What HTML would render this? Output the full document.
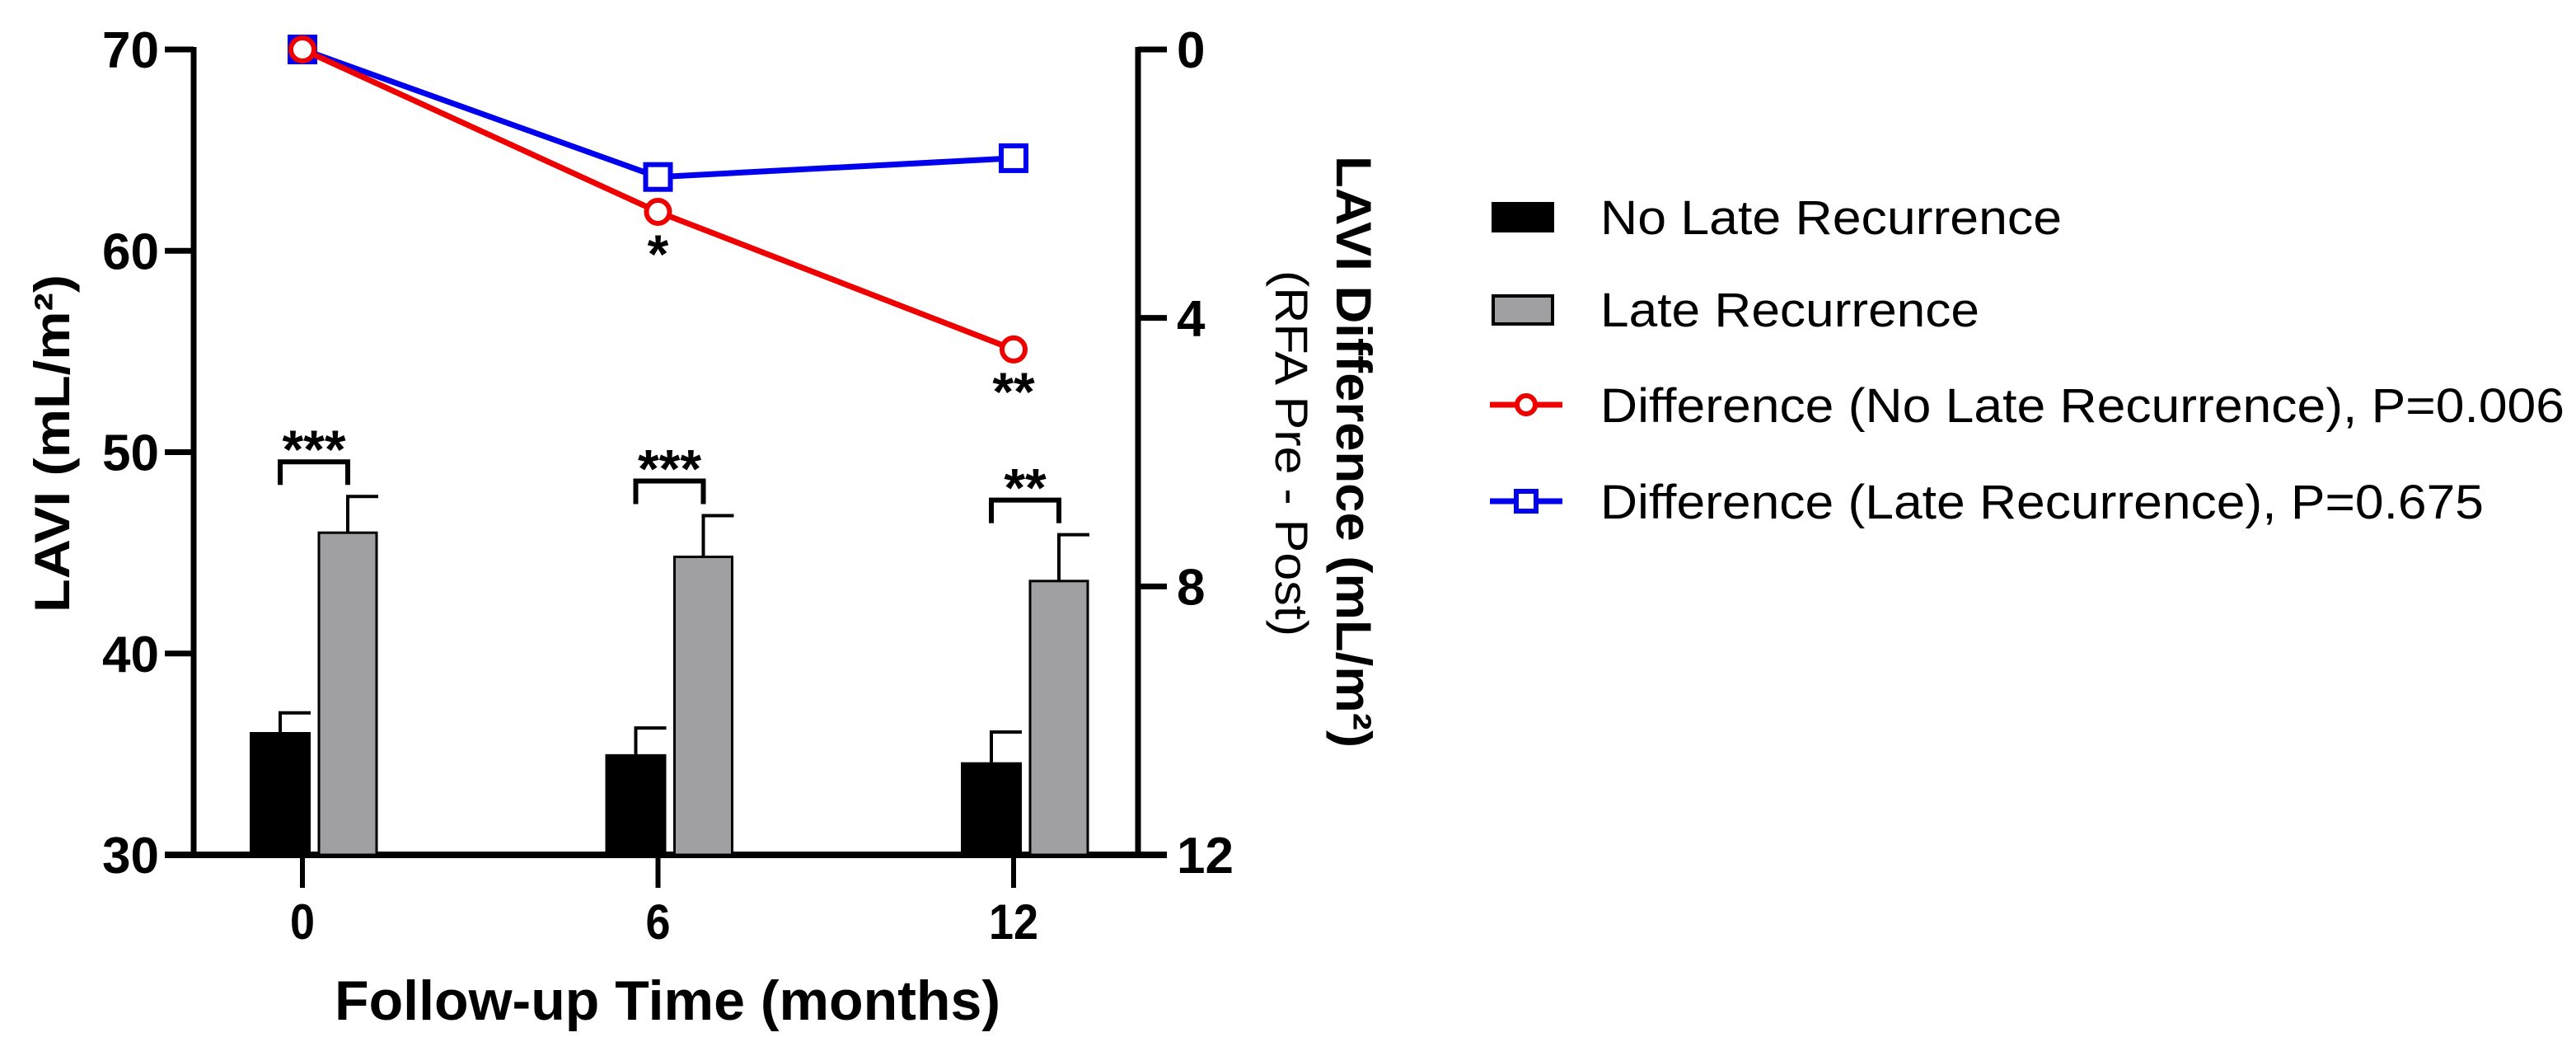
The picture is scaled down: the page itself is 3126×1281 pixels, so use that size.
<!DOCTYPE html>
<html><head><meta charset="utf-8"><style>html,body{margin:0;padding:0;background:#fff}svg{display:block}text{font-family:"Liberation Sans",Arial,sans-serif}</style></head>
<body>
<svg id="chart" width="3126" height="1281" viewBox="0 0 3126 1281" xmlns="http://www.w3.org/2000/svg">
<g id="axes"></g>
<g id="bars"></g>
<g id="lines"></g>
<g id="legend"></g>
</svg>
<script>
const categories = ["0", "6", "12"];
const noRecMean = [36.1, 35.0, 34.6];
const noRecErr = [0.95, 1.3, 1.5];
const recMean = [46.0, 44.8, 43.6];
const recErr = [1.8, 2.05, 2.3];
const diffNoRec = [0, 2.42, 4.47];
const diffRec = [0, 1.9, 1.62];
const leftTicks = [30, 40, 50, 60, 70];
const rightTicks = [0, 4, 8, 12];
const barSig = ["***", "***", "**"];
const lineSig = ["", "*", "**"];

const NS = "http://www.w3.org/2000/svg";
function mk(tag, attrs, parent, txt) {
  const e = document.createElementNS(NS, tag);
  for (const k in attrs) e.setAttribute(k, attrs[k]);
  if (txt !== undefined) e.textContent = txt;
  parent.appendChild(e);
  return e;
}
const X0 = 235, X1 = 1381, Y0 = 1037, Y1 = 60;
const yL = v => Y0 - (v - 30) / 40 * (Y0 - Y1);
const yR = v => Y1 + v / 12 * (Y0 - Y1);
const xC = i => 367 + i * 431.5;

const axes = document.getElementById('axes');
let e;
e = mk('line', {x1: X0, y1: Y1 - 3, x2: X0, y2: Y0 + 4, stroke: '#000', 'stroke-width': 7}, axes);
 
e = mk('line', {x1: X1, y1: Y1 - 3, x2: X1, y2: Y0 + 4, stroke: '#000', 'stroke-width': 7}, axes);
 
e = mk('line', {x1: X0 - 35, y1: Y0, x2: X1 + 35, y2: Y0, stroke: '#000', 'stroke-width': 8}, axes);
 
leftTicks.forEach(v => {
  mk('line', {x1: X0 - 35, y1: yL(v), x2: X0, y2: yL(v), stroke: '#000', 'stroke-width': 7}, axes);
  e = mk('text', {x: 193, y: yL(v) + 22, 'text-anchor': 'end', 'font-size': 62, 'font-weight': 'bold'}, axes, v);
   
});
rightTicks.forEach(v => {
  mk('line', {x1: X1, y1: yR(v), x2: X1 + 35, y2: yR(v), stroke: '#000', 'stroke-width': 7}, axes);
  e = mk('text', {x: 1428, y: yR(v) + 22, 'text-anchor': 'start', 'font-size': 62, 'font-weight': 'bold'}, axes, v);
   
});
categories.forEach((c, i) => {
  mk('line', {x1: xC(i), y1: Y0, x2: xC(i), y2: Y0 + 40, stroke: '#000', 'stroke-width': 6}, axes);
  e = mk('text', {x: xC(i), y: 1139, 'text-anchor': 'middle', 'font-size': 60, 'font-weight': 'bold', textLength: c.length * 30, lengthAdjust: 'spacingAndGlyphs'}, axes, c);
   
});
e = mk('text', {x: 810, y: 1237, 'text-anchor': 'middle', 'font-size': 68, 'font-weight': 'bold', textLength: 808, lengthAdjust: 'spacingAndGlyphs'}, axes, 'Follow-up Time (months)');
 
e = mk('text', {x: 0, y: 0, 'text-anchor': 'middle', 'font-size': 60, 'font-weight': 'bold', transform: 'translate(84,538) rotate(-90)', textLength: 410, lengthAdjust: 'spacingAndGlyphs'}, axes, 'LAVI (mL/m²)');
 
e = mk('text', {x: 0, y: 0, 'text-anchor': 'middle', 'font-size': 60, 'font-weight': 'bold', transform: 'translate(1622,548) rotate(90)', textLength: 718, lengthAdjust: 'spacingAndGlyphs'}, axes, 'LAVI Difference (mL/m²)');
 
e = mk('text', {x: 0, y: 0, 'text-anchor': 'middle', 'font-size': 56, transform: 'translate(1548,550) rotate(90)', textLength: 444, lengthAdjust: 'spacingAndGlyphs'}, axes, '(RFA Pre - Post)');
 

const bars = document.getElementById('bars');
const BW = 74;
categories.forEach((c, i) => {
  const cb = xC(i) - 27, cg = xC(i) + 55;
  mk('line', {x1: cb, y1: yL(noRecMean[i]), x2: cb, y2: yL(noRecMean[i] + noRecErr[i]), stroke: '#000', 'stroke-width': 4}, bars);
  mk('line', {x1: cb - 2, y1: yL(noRecMean[i] + noRecErr[i]), x2: cb + 37, y2: yL(noRecMean[i] + noRecErr[i]), stroke: '#000', 'stroke-width': 4}, bars);
  mk('line', {x1: cg, y1: yL(recMean[i]), x2: cg, y2: yL(recMean[i] + recErr[i]), stroke: '#000', 'stroke-width': 4}, bars);
  mk('line', {x1: cg - 2, y1: yL(recMean[i] + recErr[i]), x2: cg + 37, y2: yL(recMean[i] + recErr[i]), stroke: '#000', 'stroke-width': 4}, bars);
  e = mk('rect', {x: cb - BW / 2, y: yL(noRecMean[i]), width: BW, height: Y0 - yL(noRecMean[i]), fill: '#000'}, bars);
   
  e = mk('rect', {x: cg - 35, y: yL(recMean[i]), width: 70, height: Y0 - yL(recMean[i]), fill: '#a0a0a3', stroke: '#000', 'stroke-width': 3}, bars);
   
  const by = yL(Math.max(recMean[i] + recErr[i], noRecMean[i] + noRecErr[i])) - 42;
  mk('path', {d: `M${cb} ${by + 28} V${by} H${cg} V${by + 28}`, fill: 'none', stroke: '#000', 'stroke-width': 6}, bars);
  e = mk('text', {x: (cb + cg) / 2, y: by + 8, 'text-anchor': 'middle', 'font-size': 66, 'font-weight': 'bold'}, bars, barSig[i]);
   
});

const lines = document.getElementById('lines');
function series(vals, color, name, marker) {
  const pts = vals.map((v, i) => [xC(i), yR(v)]);
  e = mk('polyline', {points: pts.map(p => p.join(',')).join(' '), fill: 'none', stroke: color, 'stroke-width': 7}, lines);
   
  pts.forEach(p => {
    if (marker === 'circle') e = mk('circle', {cx: p[0], cy: p[1], r: 14, fill: '#fff', stroke: color, 'stroke-width': 6}, lines);
    else e = mk('rect', {x: p[0] - 15, y: p[1] - 15, width: 30, height: 30, fill: '#fff', stroke: color, 'stroke-width': 6}, lines);
     
  });
}
series(diffRec, '#0000ee', 'diff-late-recurrence', 'square');
series(diffNoRec, '#ee0000', 'diff-no-late-recurrence', 'circle');
diffNoRec.forEach((v, i) => {
  if (!lineSig[i]) return;
  e = mk('text', {x: xC(i), y: yR(v) + 74, 'text-anchor': 'middle', 'font-size': 66, 'font-weight': 'bold'}, lines, lineSig[i]);
   
});

const legend = document.getElementById('legend');
const items = [
  {label: 'No Late Recurrence', y: 263, w: 560},
  {label: 'Late Recurrence', y: 375, w: 460},
  {label: 'Difference (No Late Recurrence), P=0.006', y: 491, w: 1170},
  {label: 'Difference (Late Recurrence), P=0.675', y: 608, w: 1072}
];
e = mk('rect', {x: 1810, y: 245, width: 76, height: 37, fill: '#000'}, legend);
 
e = mk('rect', {x: 1812, y: 359, width: 72, height: 34, fill: '#a0a0a3', stroke: '#000', 'stroke-width': 4}, legend);
 
mk('line', {x1: 1808, y1: 491, x2: 1896, y2: 491, stroke: '#ee0000', 'stroke-width': 7}, legend);
e = mk('circle', {cx: 1852, cy: 491, r: 11, fill: '#fff', stroke: '#ee0000', 'stroke-width': 6}, legend);
 
mk('line', {x1: 1808, y1: 608, x2: 1896, y2: 608, stroke: '#0000ee', 'stroke-width': 7}, legend);
e = mk('rect', {x: 1840, y: 596, width: 24, height: 24, fill: '#fff', stroke: '#0000ee', 'stroke-width': 6}, legend);
 
items.forEach(it => {
  e = mk('text', {x: 1942, y: it.y + 21, 'font-size': 58, textLength: it.w, lengthAdjust: 'spacingAndGlyphs'}, legend, it.label);
   
});
</script>
</body></html>
